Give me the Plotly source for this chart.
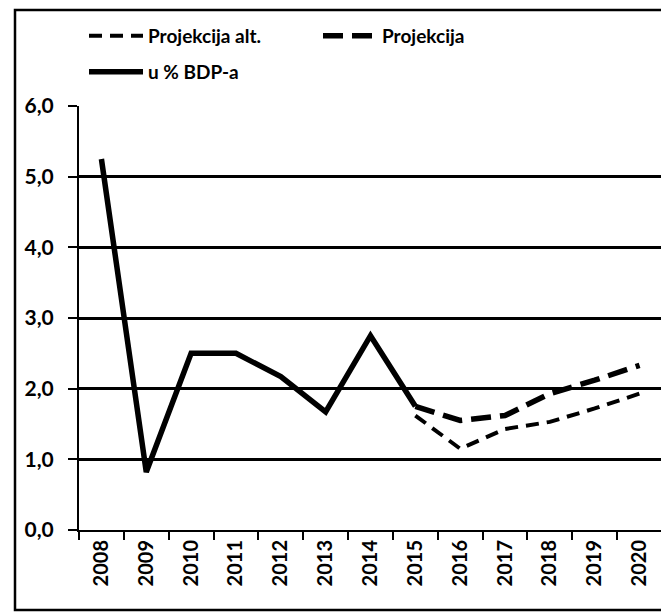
import plotly.graph_objects as go

years = ["2008", "2009", "2010", "2011", "2012", "2013", "2014",
         "2015", "2016", "2017", "2018", "2019", "2020"]
bdp_years = years[:8]
bdp_vals = [5.25, 0.82, 2.5, 2.5, 2.17, 1.67, 2.75, 1.75]
proj_years = years[7:]
proj_vals = [1.75, 1.55, 1.62, 1.93, 2.12, 2.33]
alt_years = years[7:]
alt_vals = [1.62, 1.15, 1.43, 1.53, 1.72, 1.93]
y_ticks = [0, 1, 2, 3, 4, 5, 6]

FONT = "Lato"
OFF = 8  # default page body margin
W, H = 669 - OFF, 613 - OFF
L, R, T, B = 79 - OFF, 7, 106 - OFF, 83
pw = W - L - R
ph = H - T - B


def px_(sx):
    return (sx - OFF - L) / pw


def py(sy):
    return (H - B - (sy - OFF)) / ph


fig = go.Figure()
fig.add_trace(go.Scatter(x=alt_years, y=alt_vals, mode="lines", name="Projekcija alt.",
                         legend="legend",
                         line=dict(color="black", width=4, dash="13px,8px")))
fig.add_trace(go.Scatter(x=proj_years, y=proj_vals, mode="lines", name="Projekcija",
                         legend="legend",
                         line=dict(color="black", width=5.5, dash="20px,9px")))
fig.add_trace(go.Scatter(x=bdp_years, y=bdp_vals, mode="lines", name="u % BDP-a",
                         legend="legend2",
                         line=dict(color="black", width=5.5)))

fig.add_shape(type="rect", xref="paper", yref="paper",
              x0=px_(15), x1=px_(665), y0=py(610), y1=py(10),
              line=dict(color="black", width=2.5), layer="above")

legend_font = dict(family=FONT, size=19, color="black", weight="bold")

fig.update_layout(
    width=W, height=H,
    margin=dict(l=L, r=R, t=T, b=B, pad=0, autoexpand=False),
    paper_bgcolor="white", plot_bgcolor="white",
    separators=", ",
    font=dict(family=FONT, size=20, color="black", weight="bold"),
    showlegend=True,
    legend=dict(orientation="h", x=px_(84), xanchor="left", y=py(36), yanchor="middle",
                entrywidth=165, itemwidth=54, font=legend_font, bgcolor="rgba(0,0,0,0)"),
    legend2=dict(orientation="h", x=px_(84), xanchor="left", y=py(72), yanchor="middle",
                 itemwidth=54, font=legend_font, bgcolor="rgba(0,0,0,0)"),
    xaxis=dict(type="category", categoryorder="array", categoryarray=years,
               tickson="boundaries", ticks="outside", ticklen=8, tickwidth=2,
               tickcolor="black", tickangle=-90, showline=True, linecolor="black",
               linewidth=2, showgrid=False, range=[-0.5, 12.5], fixedrange=True,
               tickfont=dict(family=FONT, size=20, color="black", weight="bold")),
    yaxis=dict(range=[0, 6], tickvals=y_ticks, tickformat=".1f", ticks="outside",
               ticklen=9, tickwidth=2, tickcolor="black", showline=True,
               linecolor="black", linewidth=2, showgrid=True, gridcolor="black",
               gridwidth=2.5, zeroline=False, ticklabelstandoff=10,
               tickfont=dict(family=FONT, size=21, color="black", weight="bold")),
)

fig.write_html("out.html")
